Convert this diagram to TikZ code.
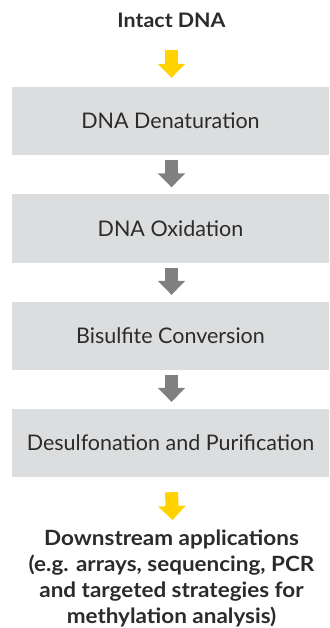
\documentclass[tikz,border=0pt]{standalone}
\usepackage{fontspec}
\setmainfont{Lato}
\newfontfamily\headfont[FakeStretch=1.07]{Lato}
\usetikzlibrary{arrows.meta}
\definecolor{boxgray}{HTML}{DCDDDE}
\definecolor{arrowgray}{HTML}{808080}
\definecolor{arrowyellow}{HTML}{FFD200}
\definecolor{textdark}{HTML}{2B2B2B}
\tikzset{
  stepbox/.style={fill=boxgray,minimum width=317,minimum height=68,inner sep=0,
    font=\fontsize{21.5}{24}\selectfont,text=textdark},
  headtext/.style={font=\headfont\fontsize{21}{26}\selectfont\bfseries,text=textdark,align=center,inner sep=0},
  blockarrow/.style={line width=13,-{Triangle[width=27,length=14]}},
  grayarrow/.style={blockarrow,draw=arrowgray},
  yellowarrow/.style={blockarrow,draw=arrowyellow}
}
\begin{document}
\begin{tikzpicture}[x=1pt,y=1pt,yscale=-1]
\useasboundingbox (0,0) rectangle (329,628);

% title
\node[headtext,font=\headfont\fontsize{20}{24}\selectfont\bfseries] (intact) at (171.5,20) {Intact DNA};

% steps
\node[stepbox] (denat) at (170.5,121) {DNA Denaturation};
\node[stepbox] (oxid) at (170.5,228.5) {DNA Oxidation};
\node[stepbox] (bisulf) at (170.5,336) {Bisulfite Conversion};
\node[stepbox] (desulf) at (170.5,443) {Desulfonation and Purification};

% result
\node[headtext,anchor=north] (downstream) at (171.5,529.5)
  {Downstream applications\\(e.g. arrays, sequencing, PCR\\and targeted strategies for\\methylation analysis)};

% arrows
\draw[yellowarrow] (171.5,50) -- ([xshift=1,yshift=-9]denat.north);
\draw[grayarrow] ([xshift=1,yshift=5]denat.south) -- ([xshift=1,yshift=-7]oxid.north);
\draw[grayarrow] ([xshift=1,yshift=5]oxid.south) -- ([xshift=1,yshift=-7]bisulf.north);
\draw[grayarrow] ([xshift=1,yshift=5]bisulf.south) -- ([xshift=1,yshift=-7]desulf.north);
\draw[yellowarrow] ([xshift=1,yshift=15]desulf.south) -- (172.5,520);

\end{tikzpicture}
\end{document}
